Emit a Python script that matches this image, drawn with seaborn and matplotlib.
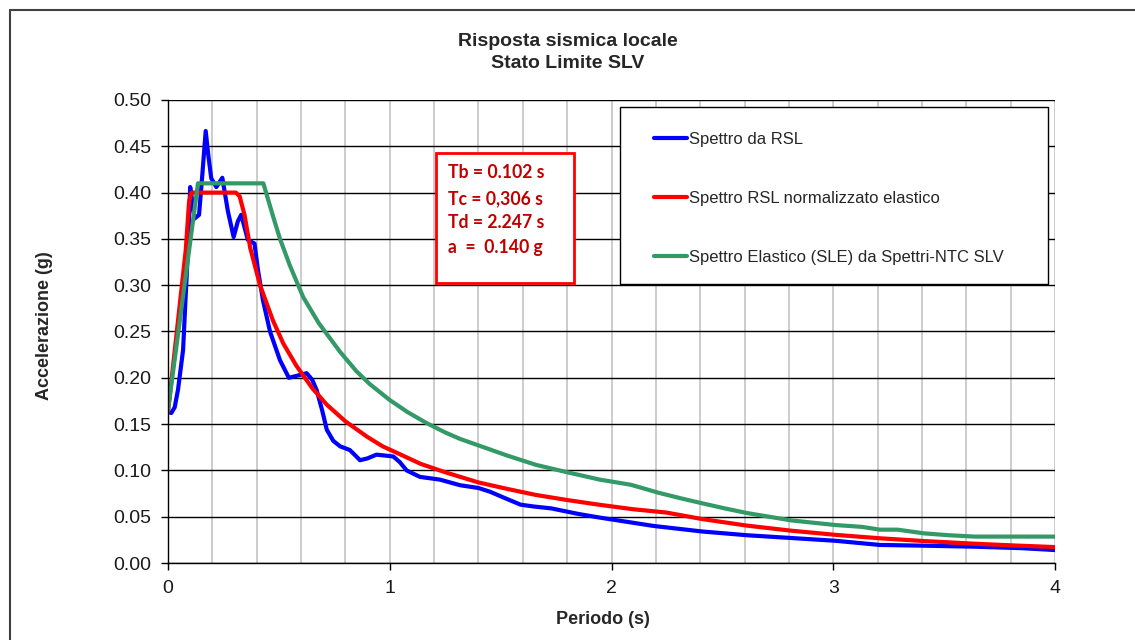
import matplotlib
matplotlib.use("Agg")
import matplotlib.pyplot as plt
import matplotlib.patches as mpatches
import matplotlib.lines as mlines
from matplotlib.ticker import MultipleLocator, FormatStrFormatter
import numpy as np
import pandas as pd
import seaborn as sns

# ---------------- data ----------------
series_names = ["Spettro da RSL",
                "Spettro RSL normalizzato elastico",
                "Spettro Elastico (SLE) da Spettri-NTC SLV"]
series_colors = ["#0000FF", "#FF0000", "#339966"]

rsl_T = [0.00, 0.015, 0.03, 0.045, 0.06, 0.068, 0.08, 0.09, 0.10, 0.11, 0.12, 0.14,
         0.155, 0.17, 0.182, 0.195, 0.218, 0.245, 0.27, 0.296, 0.315, 0.33, 0.36, 0.39,
         0.406, 0.428, 0.46, 0.505, 0.545, 0.594, 0.625, 0.65, 0.67, 0.695, 0.716, 0.745,
         0.776, 0.82, 0.866, 0.90, 0.94, 0.98, 1.016, 1.045, 1.076, 1.136, 1.227, 1.317,
         1.40, 1.452, 1.52, 1.59, 1.65, 1.728, 1.85, 1.948, 2.19, 2.41, 2.61, 2.81,
         3.01, 3.21, 3.41, 3.64, 3.85, 4.00]
rsl_Sa = [0.163, 0.162, 0.168, 0.187, 0.215, 0.23, 0.29, 0.338, 0.406, 0.39, 0.372, 0.376,
          0.42, 0.4665, 0.44, 0.4155, 0.406, 0.416, 0.38, 0.352, 0.369, 0.376, 0.349, 0.345,
          0.316, 0.284, 0.25, 0.219, 0.200, 0.203, 0.205, 0.198, 0.187, 0.165, 0.144, 0.132,
          0.126, 0.122, 0.111, 0.113, 0.117, 0.116, 0.115, 0.109, 0.100, 0.093, 0.090, 0.084,
          0.081, 0.077, 0.070, 0.063, 0.061, 0.059, 0.053, 0.049, 0.040, 0.034, 0.030, 0.027,
          0.024, 0.0195, 0.0187, 0.0176, 0.016, 0.014]

norm_T = [0.0, 0.08, 0.095, 0.105, 0.306, 0.323, 0.345, 0.371, 0.415, 0.473, 0.52, 0.579,
          0.65, 0.716, 0.80, 0.90, 0.968, 1.05, 1.14, 1.25, 1.40, 1.53, 1.659, 1.80, 1.948,
          2.10, 2.247, 2.41, 2.61, 2.81, 3.01, 3.21, 3.41, 3.64, 3.82, 4.0]
norm_Sa = [0.163, 0.338, 0.390, 0.400, 0.400, 0.396, 0.376, 0.340, 0.300, 0.262, 0.237, 0.213,
           0.189, 0.171, 0.153, 0.136, 0.126, 0.117, 0.107, 0.098, 0.087, 0.080, 0.0735, 0.068,
           0.0628, 0.058, 0.0545, 0.0474, 0.0404, 0.0349, 0.0304, 0.0267, 0.0237, 0.0208,
           0.0189, 0.0172]

ntc_T = [0.0, 0.135, 0.43, 0.473, 0.505, 0.55, 0.61, 0.68, 0.776, 0.85, 0.911, 1.0, 1.08,
         1.167, 1.25, 1.317, 1.40, 1.53, 1.659, 1.80, 1.948, 2.087, 2.21, 2.31, 2.41, 2.51,
         2.61, 2.71, 2.81, 2.91, 3.01, 3.13, 3.21, 3.29, 3.41, 3.52, 3.64, 4.0]
ntc_Sa = [0.165, 0.41, 0.41, 0.375, 0.350, 0.321, 0.287, 0.259, 0.228, 0.207, 0.193, 0.176,
          0.163, 0.151, 0.141, 0.134, 0.127, 0.116, 0.106, 0.098, 0.090, 0.0845, 0.076, 0.070,
          0.0644, 0.059, 0.054, 0.050, 0.046, 0.0435, 0.041, 0.039, 0.036, 0.036, 0.032, 0.030,
          0.0285, 0.0285]

x_ticks = [0, 1, 2, 3, 4]
box_lines = ["Tb = 0.102 s", "Tc = 0,306 s", "Td = 2.247 s", "a  =  0.140 g"]
title_lines = ["Risposta sismica locale", "Stato Limite SLV"]

df = pd.concat([
    pd.DataFrame({"T": rsl_T, "Sa": rsl_Sa, "serie": series_names[0]}),
    pd.DataFrame({"T": norm_T, "Sa": norm_Sa, "serie": series_names[1]}),
    pd.DataFrame({"T": ntc_T, "Sa": ntc_Sa, "serie": series_names[2]}),
], ignore_index=True)

# ---------------- style ----------------
sns.set_theme(style="white")
plt.rcParams["font.family"] = ["Liberation Sans", "DejaVu Sans"]

W, H = 1135, 640
fig = plt.figure(figsize=(W / 100, H / 100), dpi=100)
fig.patch.set_facecolor("white")
L, R, T_, B = 168, 1055, 100, 563
ax = fig.add_axes([L / W, 1 - B / H, (R - L) / W, (B - T_) / H])

sns.lineplot(data=df, x="T", y="Sa", hue="serie", hue_order=series_names,
             palette=series_colors, sort=False, estimator=None, linewidth=3.0,
             ax=ax, legend=False)
for ln in ax.get_lines():
    ln.set_solid_joinstyle("round")
    ln.set_solid_capstyle("round")

ax.set_xlim(0, 4)
ax.set_ylim(0, 0.5)
ax.set_xticks(x_ticks)
ax.set_xticklabels([str(v) for v in x_ticks])
ax.xaxis.set_minor_locator(MultipleLocator(0.2))
ax.yaxis.set_major_locator(MultipleLocator(0.05))
ax.yaxis.set_major_formatter(FormatStrFormatter("%.2f"))

ax.grid(False)
ax.grid(True, which="both", axis="x", color="#C8C8C8", linewidth=1.3)
ax.grid(True, which="major", axis="y", color="#000000", linewidth=1.0)
ax.set_axisbelow(True)

for s in ["top", "right"]:
    ax.spines[s].set_visible(False)
for s in ["left", "bottom"]:
    ax.spines[s].set_color("black")
    ax.spines[s].set_linewidth(1.0)

ax.tick_params(axis="both", which="major", direction="out", length=5, width=1,
               color="black", labelsize=14, labelcolor="#1a1a1a", left=True, bottom=True)
ax.tick_params(axis="y", pad=7)
ax.tick_params(axis="x", pad=7)
ax.tick_params(axis="x", which="minor", length=0)

ax.set_xlabel("Periodo (s)", fontsize=13, fontweight="bold")
ax.set_ylabel("Accelerazione (g)", fontsize=13, fontweight="bold")
ax.yaxis.set_label_coords((53 - L) / (R - L), (B - 326) / (B - T_))
ax.xaxis.set_label_coords((603 - L) / (R - L), (B - 611) / (B - T_))

# title
fig.text(0.5, 1 - 42 / H, title_lines[0], ha="center", va="center",
         fontsize=14, fontweight="bold")
fig.text(0.5, 1 - 64 / H, title_lines[1], ha="center", va="center",
         fontsize=14, fontweight="bold")

def ax_x(px):
    return (px - L) / (R - L)

def ax_y(py):
    return (B - py) / (B - T_)

# legend box
leg_rect = mpatches.Rectangle((ax_x(620), ax_y(284)), ax_x(1048) - ax_x(620),
                              ax_y(107) - ax_y(284), transform=ax.transAxes,
                              facecolor="white", edgecolor="black", linewidth=1.0,
                              zorder=4, clip_on=False)
ax.add_patch(leg_rect)
handles = [mlines.Line2D([], [], color=c, linewidth=3.0, solid_capstyle="round")
           for c in series_colors]
leg = ax.legend(handles, series_names, loc="upper left",
                bbox_to_anchor=(ax_x(654), ax_y(132)), frameon=False,
                fontsize=12, handlelength=2.0, handletextpad=0.1,
                labelspacing=2.63, borderpad=0, borderaxespad=0)
leg.set_zorder(5)

# parameter box
box_rect = mpatches.Rectangle((ax_x(436), ax_y(283)), ax_x(574) - ax_x(436),
                              ax_y(152.7) - ax_y(283), transform=ax.transAxes,
                              facecolor="white", edgecolor="#FF0000", linewidth=2.0,
                              zorder=4)
ax.add_patch(box_rect)
for txt, py in zip(box_lines, [173, 198.5, 222, 247]):
    ax.text(ax_x(448), ax_y(py), txt, transform=ax.transAxes, ha="left", va="center",
            fontsize=12.7, fontweight="bold", color="#C00000",
            family=["Lato", "DejaVu Sans"], zorder=6)

# outer chart border (partially visible)
fig.add_artist(mlines.Line2D([10 / W, 10 / W], [0, 1 - 10 / H], color="#404040",
                             linewidth=1.5, transform=fig.transFigure))
fig.add_artist(mlines.Line2D([10 / W, 1], [1 - 10 / H, 1 - 10 / H], color="#404040",
                             linewidth=1.5, transform=fig.transFigure))

fig.savefig("out.png", dpi=100, facecolor="white")
